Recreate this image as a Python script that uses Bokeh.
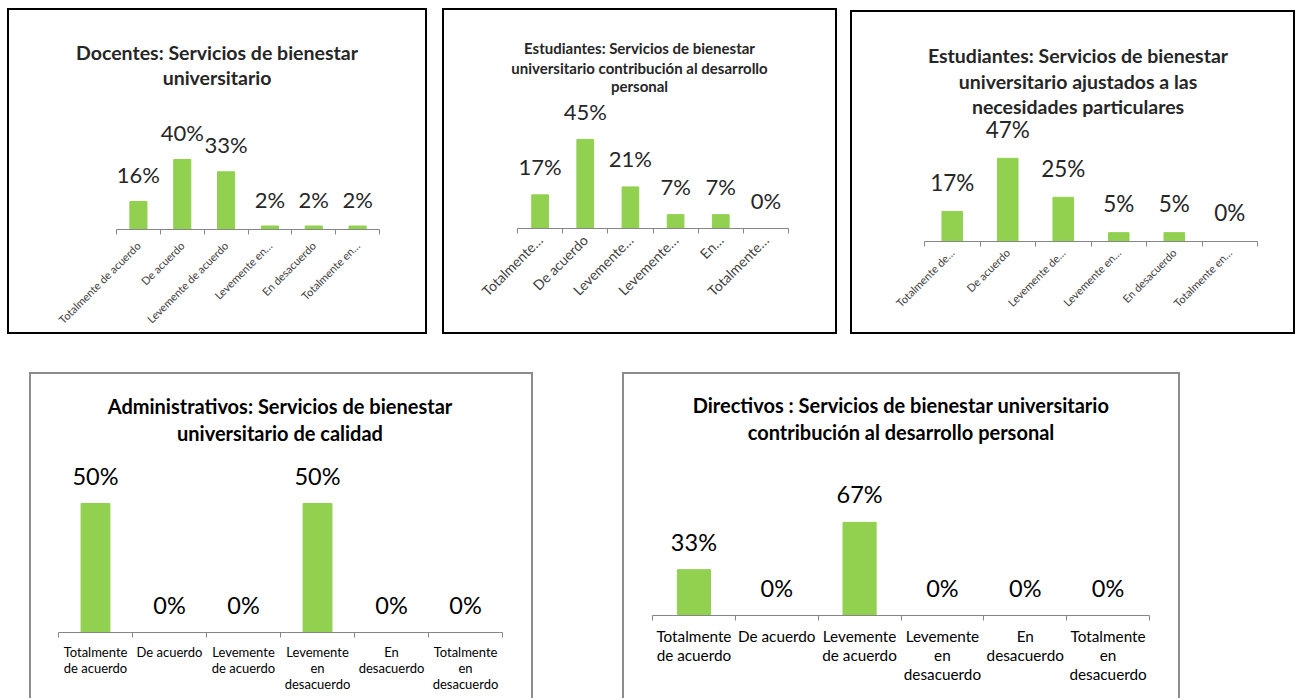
import math
from bokeh.plotting import figure
from bokeh.models import FixedTicker, Label, Spacer
from bokeh.layouts import row, column
from bokeh.core.properties import value
from bokeh.embed import file_html
from bokeh.resources import INLINE

# ---------------- data ----------------
categories = ["Totalmente de acuerdo", "De acuerdo", "Levemente de acuerdo",
              "Levemente en desacuerdo", "En desacuerdo", "Totalmente en desacuerdo"]

docentes = [16, 40, 33, 2, 2, 2]
estudiantes_desarrollo = [17, 45, 21, 7, 7, 0]
estudiantes_necesidades = [17, 47, 25, 5, 5, 0]
administrativos = [50, 0, 0, 50, 0, 0]
directivos = [33, 0, 67, 0, 0, 0]

ticks_docentes = ["Totalmente de acuerdo", "De acuerdo", "Levemente de acuerdo",
                  "Levemente en…", "En desacuerdo", "Totalmente en…"]
ticks_est_desarrollo = ["Totalmente…", "De acuerdo", "Levemente…",
                        "Levemente…", "En…", "Totalmente…"]
ticks_est_necesidades = ["Totalmente de…", "De acuerdo", "Levemente de…",
                         "Levemente en…", "En desacuerdo", "Totalmente en…"]
ticks_wrapped = ["Totalmente\nde acuerdo", "De acuerdo", "Levemente\nde acuerdo",
                 "Levemente\nen\ndesacuerdo", "En\ndesacuerdo", "Totalmente\nen\ndesacuerdo"]

title_docentes = ["Docentes: Servicios de bienestar", "universitario"]
title_est_desarrollo = ["Estudiantes: Servicios de bienestar",
                        "universitario contribución al desarrollo", "personal"]
title_est_necesidades = ["Estudiantes: Servicios de bienestar",
                         "universitario ajustados a las", "necesidades particulares"]
title_administrativos = ["Administrativos: Servicios de bienestar",
                         "universitario de calidad"]
title_directivos = ["Directivos : Servicios de bienestar universitario",
                    "contribución al desarrollo personal"]

GREEN = "#92D050"
AXIS = "#868686"
FONT = "Lato"
PAD = 2


def make_chart(vals, tick_labels, title_lines, *, w, h, axis_l, axis_r, axis_y, ppp,
               title_cx, title_base, title_size, title_color,
               lab_size, lab_color, lab_off,
               tick_size, tick_color, tick_orient, tick_standoff, tick_lh,
               bar_w, border):
    n = len(vals)
    cat_w = (axis_r - axis_l) / n
    x0 = -0.5 - (axis_l - PAD) / cat_w
    x1 = n - 0.5 + (w - PAD - axis_r) / cat_w
    y1 = (axis_y - PAD) / ppp
    p = figure(width=w, height=h, x_range=(x0, x1), y_range=(0, y1),
               output_backend="svg", toolbar_location=None, title=None,
               y_axis_location=None,
               min_border_left=PAD, min_border_right=PAD,
               min_border_top=PAD, min_border_bottom=h - axis_y)
    p.xgrid.visible = False
    p.ygrid.visible = False
    p.outline_line_color = None
    p.background_fill_color = None
    p.border_fill_color = None
    p.styles = {"box-shadow": border}

    xs = list(range(n))
    p.vbar(x=xs, top=vals, width=bar_w, color=GREEN)
    p.text(x=xs, y=vals, text=[f"{v}%" for v in vals], text_align="center",
           text_baseline="alphabetic", y_offset=-lab_off,
           text_font=value(FONT), text_font_size=f"{lab_size}px", text_color=lab_color)

    ax = p.xaxis[0]
    ax.bounds = (-0.5, n - 0.5)
    ax.ticker = FixedTicker(ticks=xs, minor_ticks=[i - 0.5 for i in range(n + 1)])
    ax.major_label_overrides = {i: t for i, t in enumerate(tick_labels)}
    ax.major_tick_line_color = None
    ax.major_tick_out = 0
    ax.major_tick_in = 0
    ax.minor_tick_line_color = AXIS
    ax.minor_tick_out = 5
    ax.minor_tick_in = 0
    ax.axis_line_color = AXIS
    ax.major_label_text_font = FONT
    ax.major_label_text_font_size = f"{tick_size}px"
    ax.major_label_text_color = tick_color
    ax.major_label_text_line_height = tick_lh
    ax.major_label_orientation = tick_orient
    ax.major_label_standoff = tick_standoff

    tx = -0.5 + (title_cx - axis_l) / cat_w
    for line, base in zip(title_lines, title_base):
        p.add_layout(Label(x=tx, y=(axis_y - base) / ppp, text=line,
                           text_align="center", text_baseline="alphabetic",
                           text_font=FONT, text_font_style="bold",
                           text_font_size=f"{title_size}px", text_color=title_color))
    return p


BLACK_BOX = "inset 0 0 0 2px #000"
GRAY_BOX = "inset 2px 0 0 #8c8c8c, inset -2px 0 0 #8c8c8c, inset 0 2px 0 #8c8c8c"

# chart 1 : figure at (7, 8)
p1 = make_chart(docentes, ticks_docentes, title_docentes,
                w=420, h=326, axis_l=109, axis_r=372, axis_y=221, ppp=1.75,
                title_cx=209.5, title_base=[43.5, 68.5], title_size=19.5, title_color="#262626",
                lab_size=22, lab_color="#262626", lab_off=27,
                tick_size=11, tick_color="#404040", tick_orient=math.pi / 4,
                tick_standoff=9, tick_lh=1.2, bar_w=0.39, border=BLACK_BOX)

# chart 2 : figure at (442, 8)
p2 = make_chart(estudiantes_desarrollo, ticks_est_desarrollo, title_est_desarrollo,
                w=395, h=326, axis_l=75, axis_r=346, axis_y=220, ppp=1.98,
                title_cx=197, title_base=[39, 59, 77.5], title_size=15, title_color="#262626",
                lab_size=22, lab_color="#262626", lab_off=28,
                tick_size=14, tick_color="#404040", tick_orient=math.pi / 4,
                tick_standoff=4, tick_lh=1.2, bar_w=0.37, border=BLACK_BOX)

# chart 3 : figure at (850, 10)
p3 = make_chart(estudiantes_necesidades, ticks_est_necesidades, title_est_necesidades,
                w=445, h=324, axis_l=74, axis_r=407, axis_y=231, ppp=1.77,
                title_cx=227.5, title_base=[44.5, 70.5, 95.5], title_size=19.5, title_color="#262626",
                lab_size=22.5, lab_color="#262626", lab_off=29,
                tick_size=11, tick_color="#404040", tick_orient=math.pi / 4,
                tick_standoff=4, tick_lh=1.2, bar_w=0.37, border=BLACK_BOX)

# chart 4 : figure at (29, 372)
p4 = make_chart(administrativos, ticks_wrapped, title_administrativos,
                w=504, h=326, axis_l=29, axis_r=473, axis_y=260, ppp=2.58,
                title_cx=250.5, title_base=[33.5, 60], title_size=20, title_color="#000",
                lab_size=23.5, lab_color="#000", lab_off=28,
                tick_size=13, tick_color="#000", tick_orient="horizontal",
                tick_standoff=6, tick_lh=1.0, bar_w=0.39, border=GRAY_BOX)

# chart 5 : figure at (622, 372)
p5 = make_chart(directivos, ticks_wrapped, title_directivos,
                w=558, h=326, axis_l=30, axis_r=527, axis_y=243, ppp=1.39,
                title_cx=278.5, title_base=[32.5, 59], title_size=20, title_color="#000",
                lab_size=23.5, lab_color="#000", lab_off=28,
                tick_size=15.3, tick_color="#000", tick_orient="horizontal",
                tick_standoff=6, tick_lh=1.07, bar_w=0.40, border=GRAY_BOX)

layout = column(
    row(Spacer(width=7), column(Spacer(height=8), p1), Spacer(width=15),
        column(Spacer(height=8), p2), Spacer(width=13),
        column(Spacer(height=10), p3)),
    Spacer(height=38),
    row(Spacer(width=29), column(p4), Spacer(width=89), column(p5)),
)

open("out.html", "w").write(file_html(layout, INLINE))
